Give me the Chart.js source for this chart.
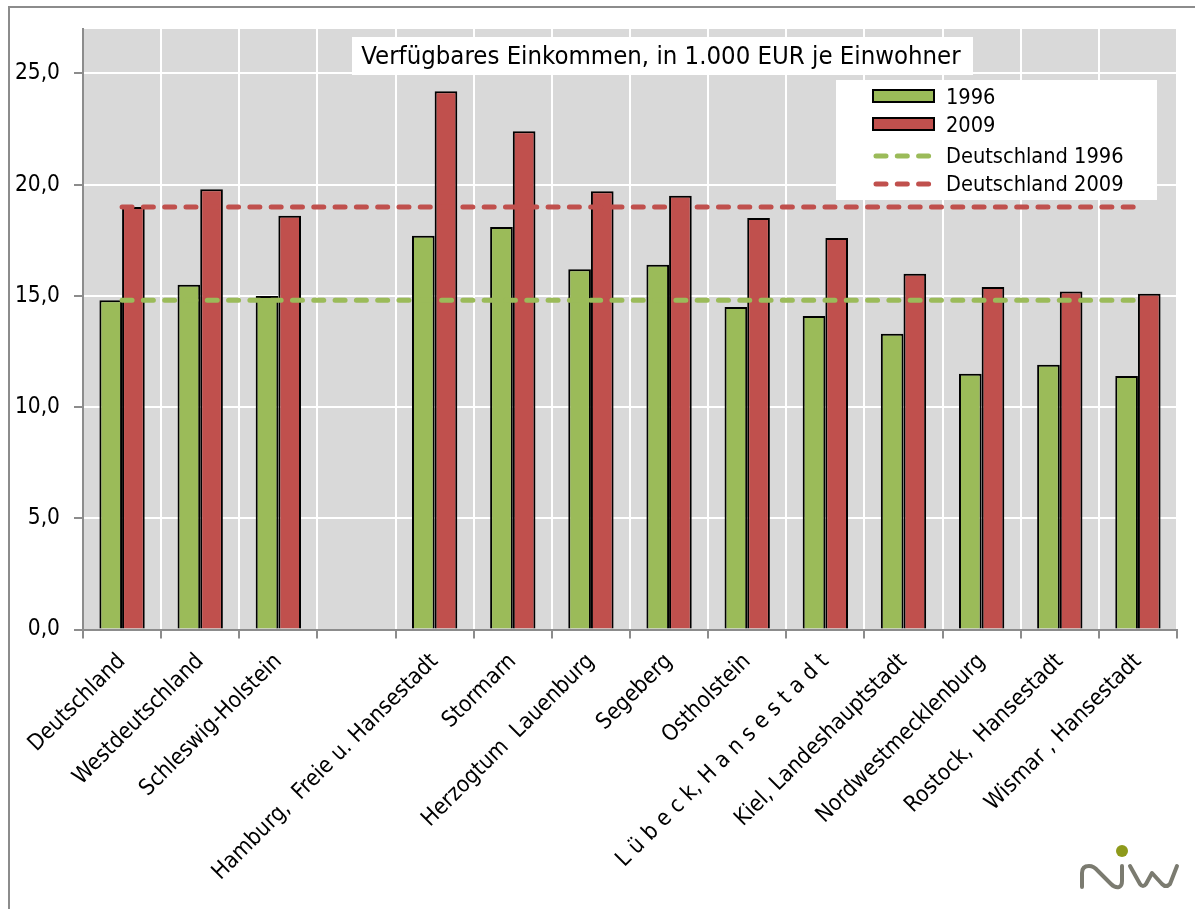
<!DOCTYPE html>
<html>
<head>
<meta charset="utf-8">
<script src="https://cdn.jsdelivr.net/npm/chart.js@4.4.1/dist/chart.umd.min.js"></script>
<style>
  html, body { margin: 0; padding: 0; background: #ffffff; }
  #wrap { position: relative; width: 1195px; height: 909px; overflow: hidden; }
  canvas { display: block; }
</style>
</head>
<body>
<div id="wrap"><canvas id="c" width="1195" height="909"></canvas></div>
<script>
// ---- data ----
const categories = [
  'Deutschland',
  'Westdeutschland',
  'Schleswig-Holstein',
  '',
  'Hamburg,  Freie u. Hansestadt',
  'Stormarn',
  'Herzogtum  Lauenburg',
  'Segeberg',
  'Ostholstein',
  'L ü b e c k, H a n s e s t a d t',
  'Kiel, Landeshauptstadt',
  'Nordwestmecklenburg',
  'Rostock,  Hansestadt',
  'Wismar , Hansestadt'
];
const values1996 = [14.8, 15.5, 15.0, null, 17.7, 18.1, 16.2, 16.4, 14.5, 14.1, 13.3, 11.5, 11.9, 11.4];
const values2009 = [19.0, 19.8, 18.6, null, 24.2, 22.4, 19.7, 19.5, 18.5, 17.6, 16.0, 15.4, 15.2, 15.1];
const deutschland1996 = [14.8, 14.8, 14.8, 14.8, 14.8, 14.8, 14.8, 14.8, 14.8, 14.8, 14.8, 14.8, 14.8, 14.8];
const deutschland2009 = [19.0, 19.0, 19.0, 19.0, 19.0, 19.0, 19.0, 19.0, 19.0, 19.0, 19.0, 19.0, 19.0, 19.0];
const yTickValues = [0, 5, 10, 15, 20, 25];
const seriesNames = ['1996', '2009', 'Deutschland 1996', 'Deutschland 2009'];
const chartTitle = 'Verfügbares Einkommen, in 1.000 EUR je Einwohner';

const GREEN = '#9BBB59';
const RED = '#C0504D';
const FONT = "'DejaVu Sans Condensed', 'DejaVu Sans', sans-serif";

const decorPlugin = {
  id: 'decor',
  beforeDraw(chart) {
    const ctx = chart.ctx, a = chart.chartArea;
    ctx.save();
    ctx.fillStyle = '#ffffff';
    ctx.fillRect(0, 0, chart.width, chart.height);
    ctx.strokeStyle = '#8c8c8c';
    ctx.lineWidth = 2;
    ctx.strokeRect(9, 7, chart.width + 20, chart.height + 20);
    ctx.fillStyle = '#D9D9D9';
    ctx.fillRect(a.left, a.top, a.right - a.left, a.bottom - a.top);
    ctx.restore();
  },
  afterDraw(chart) {
    const ctx = chart.ctx;
    ctx.save();
    // title box
    ctx.fillStyle = '#ffffff';
    ctx.fillRect(352, 37, 621, 38);
    ctx.fillStyle = '#000000';
    ctx.font = "25.5px " + FONT;
    ctx.textAlign = 'center';
    ctx.textBaseline = 'middle';
    ctx.fillText(chartTitle, 661, 57);
    // legend box
    ctx.fillStyle = '#ffffff';
    ctx.fillRect(836, 80, 321, 120);
    ctx.font = "21.6px " + FONT;
    ctx.textAlign = 'left';
    const rows = [97, 125, 156, 184];
    chart.data.datasets.forEach((ds, i) => {
      const y = rows[i];
      if (ds.type === 'line') {
        ctx.strokeStyle = ds.borderColor;
        ctx.lineWidth = ds.borderWidth;
        ctx.lineCap = 'round';
        ctx.setLineDash(ds.borderDash);
        ctx.beginPath();
        ctx.moveTo(876, y);
        ctx.lineTo(932, y);
        ctx.stroke();
        ctx.setLineDash([]);
      } else {
        ctx.fillStyle = ds.backgroundColor;
        ctx.fillRect(873, y - 7, 62, 13);
        ctx.strokeStyle = '#000';
        ctx.lineWidth = 2;
        ctx.strokeRect(873, y - 7, 61, 12);
      }
      ctx.fillStyle = '#000';
      ctx.fillText(ds.label, 946, y + 1);
    });
    // logo
    ctx.fillStyle = '#8E9A1B';
    ctx.beginPath();
    ctx.arc(1122, 851, 6, 0, Math.PI * 2);
    ctx.fill();
    ctx.strokeStyle = '#7B7B70';
    ctx.lineWidth = 4;
    ctx.lineCap = 'round';
    ctx.lineJoin = 'round';
    ctx.beginPath();
    ctx.moveTo(1082, 887);
    ctx.lineTo(1082, 873);
    ctx.quadraticCurveTo(1082, 866, 1089, 866);
    ctx.quadraticCurveTo(1094, 866, 1098, 871);
    ctx.lineTo(1111, 884);
    ctx.quadraticCurveTo(1115, 888, 1119, 887);
    ctx.quadraticCurveTo(1122, 886, 1122, 881);
    ctx.lineTo(1122, 866);
    ctx.stroke();
    ctx.beginPath();
    ctx.moveTo(1130, 866);
    ctx.lineTo(1140, 884);
    ctx.quadraticCurveTo(1143, 888, 1146, 884);
    ctx.lineTo(1152, 873);
    ctx.lineTo(1162, 884);
    ctx.quadraticCurveTo(1166, 888, 1170, 884);
    ctx.lineTo(1177, 866);
    ctx.stroke();
    ctx.restore();
  }
};

new Chart(document.getElementById('c'), {
  data: {
    labels: categories,
    datasets: [
      { type: 'bar', label: seriesNames[0], data: values1996, backgroundColor: GREEN,
        borderColor: '#000000', borderWidth: 2, order: 2,
        categoryPercentage: 0.58, barPercentage: 1.0 },
      { type: 'bar', label: seriesNames[1], data: values2009, backgroundColor: RED,
        borderColor: '#000000', borderWidth: 2, order: 2,
        categoryPercentage: 0.58, barPercentage: 1.0 },
      { type: 'line', label: seriesNames[2], data: deutschland1996, borderColor: GREEN,
        borderWidth: 5, borderDash: [10, 11.3], borderCapStyle: 'round', pointRadius: 0,
        fill: false, order: 1 },
      { type: 'line', label: seriesNames[3], data: deutschland2009, borderColor: RED,
        borderWidth: 5, borderDash: [10, 11.3], borderCapStyle: 'round', pointRadius: 0,
        fill: false, order: 1 }
    ]
  },
  options: {
    responsive: false,
    animation: false,
    devicePixelRatio: 1,
    events: [],
    layout: { padding: { left: 0, right: 18, top: 29, bottom: 0 } },
    plugins: { legend: { display: false }, title: { display: false }, tooltip: { enabled: false } },
    scales: {
      x: {
        offset: true,
        grid: { offset: true, color: '#ffffff', lineWidth: 2, tickColor: '#8c8c8c', tickLength: 9, drawOnChartArea: true },
        border: { color: '#8c8c8c', width: 2 },
        ticks: { color: '#000000', font: { family: FONT, size: 22.5 }, maxRotation: 45, minRotation: 45, padding: 10, autoSkip: false },
        afterFit(scale) { scale.height = 909 - 629.5; }
      },
      y: {
        min: 0, max: 27,
        afterBuildTicks(scale) { scale.ticks = yTickValues.map(v => ({ value: v })); },
        grid: { color: '#ffffff', lineWidth: 2, tickColor: '#8c8c8c', tickLength: 9 },
        border: { color: '#8c8c8c', width: 2 },
        ticks: { color: '#000000', font: { family: FONT, size: 22.5 }, padding: 14,
          callback: v => v.toFixed(1).replace('.', ',') },
        afterFit(scale) { scale.width = 83; }
      }
    }
  },
  plugins: [decorPlugin]
});
</script>
</body>
</html>
